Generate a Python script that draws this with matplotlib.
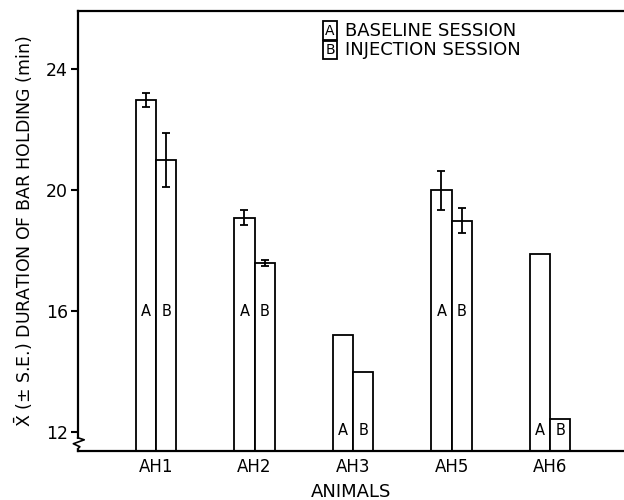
import matplotlib
matplotlib.use("Agg")
import matplotlib.pyplot as plt
import matplotlib.transforms as mtransforms
import numpy as np

# Data
animals = ["AH1", "AH2", "AH3", "AH5", "AH6"]
baseline = [23.0, 19.1, 15.2, 20.0, 17.9]
baseline_se = [0.23, 0.25, 0, 0.65, 0]
injection = [21.0, 17.6, 14.0, 19.0, 12.43]
injection_se = [0.88, 0.1, 0, 0.4, 0]
letter_y = [16, 16, 12.05, 16, 12.05]

y_bottom = 11.38
width = 0.206

fig = plt.figure(figsize=(6.24, 5.0), dpi=100)
ax = fig.add_axes([77.7 / 624, 49 / 500, (624 - 77.7) / 624, (451 - 10.7) / 500])

x = np.arange(len(animals))
xa = x - width / 2
xb = x + width / 2

bar_kw = dict(width=width, bottom=y_bottom, color="white", edgecolor="black", linewidth=1.3, zorder=2)
ax.bar(xa, np.array(baseline) - y_bottom, **bar_kw)
ax.bar(xb, np.array(injection) - y_bottom, **bar_kw)

err_kw = dict(fmt="none", ecolor="black", elinewidth=1.3, capsize=3, capthick=1.3, zorder=3)
for xs, vals, ses in [(xa, baseline, baseline_se), (xb, injection, injection_se)]:
    for xi, v, s in zip(xs, vals, ses):
        if s > 0:
            ax.errorbar(xi, v, yerr=s, **err_kw)

for i in range(len(animals)):
    ax.text(xa[i], letter_y[i], "A", ha="center", va="center", fontsize=10.5, zorder=4)
    ax.text(xb[i], letter_y[i], "B", ha="center", va="center", fontsize=10.5, zorder=4)

ax.set_xlim(-0.795, 4.75)
ax.set_ylim(y_bottom, 25.94)
ax.set_xticks(x)
ax.set_xticklabels(animals, fontsize=12)
ax.set_yticks([12, 16, 20, 24])
ax.set_yticklabels(["12", "16", "20", "24"], fontsize=12.5)
ax.tick_params(axis="x", length=0, pad=5)
ax.tick_params(axis="y", direction="out", length=5, width=1.5, pad=2)

for side in ["left", "bottom", "top"]:
    ax.spines[side].set_linewidth(1.6)
ax.spines["right"].set_visible(False)

ax.set_xlabel("ANIMALS", fontsize=13, labelpad=5)
ax.set_ylabel(r"$\bar{\mathrm{X}}$ (± S.E.) DURATION OF BAR HOLDING (min)", fontsize=12.5, labelpad=8)

# axis break mark
trans = mtransforms.blended_transform_factory(ax.transAxes, ax.transData)
ax.plot([0, 0], [11.72, 11.5], color="white", linewidth=3, transform=trans, clip_on=False, zorder=5)
ax.plot([0.0, 0.012, -0.008, 0.004, 0.0], [11.82, 11.75, 11.62, 11.52, 11.45],
        color="black", linewidth=1.2, transform=trans, clip_on=False, zorder=6)

# legend drawn as text with boxed letters
box = dict(boxstyle="square,pad=0.15", facecolor="white", edgecolor="black", linewidth=1.3)
ax.text(0.462, 0.955, "A", transform=ax.transAxes, ha="center", va="center", fontsize=10, bbox=box)
ax.text(0.462, 0.911, "B", transform=ax.transAxes, ha="center", va="center", fontsize=10, bbox=box)
ax.text(0.49, 0.955, "BASELINE SESSION", transform=ax.transAxes, ha="left", va="center", fontsize=13)
ax.text(0.49, 0.911, "INJECTION SESSION", transform=ax.transAxes, ha="left", va="center", fontsize=13)

plt.savefig("out.png", dpi=100, facecolor="white")
plt.close(fig)
